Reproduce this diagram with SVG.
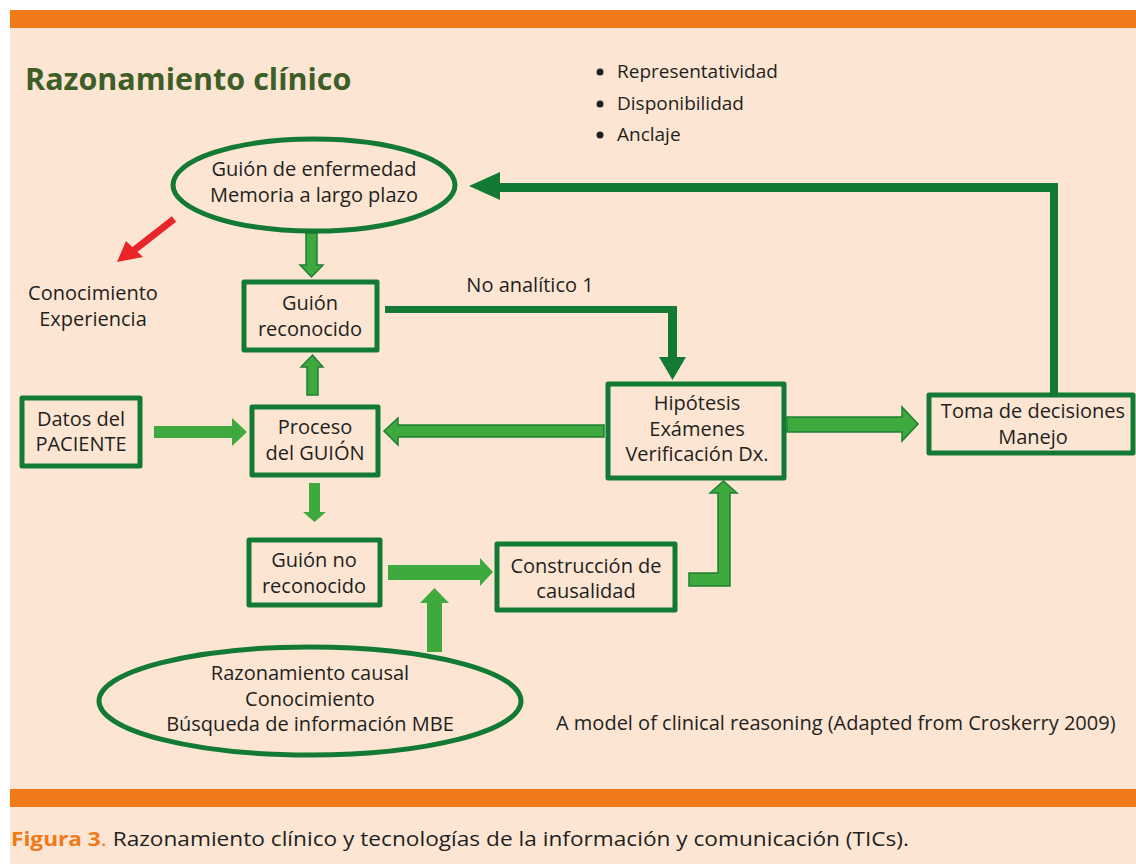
<svg xmlns="http://www.w3.org/2000/svg" width="1136" height="864" viewBox="0 0 1136 864">
<style>
.t{font-family:"Open Sans","Liberation Sans",sans-serif;font-size:20px;fill:#231F20;text-anchor:middle}
.box{fill:none;stroke:#137A36;stroke-width:5;stroke-linejoin:round}
.dg{fill:#137A36}
.lg{fill:#3EAA3E;stroke:#1F7F34;stroke-width:1.5}
.lp{fill:#3EAA3E}
</style>
<rect x="0" y="0" width="1136" height="864" fill="#FFFFFF"/>
<rect x="10" y="10" width="1126" height="854" fill="#FDE5D3"/>
<rect x="10" y="10" width="1126" height="18" fill="#EF7A17"/>
<rect x="10" y="789" width="1126" height="18" fill="#EF7A17"/>
<text x="25" y="90" font-family="Open Sans,Liberation Sans,sans-serif" font-size="30.5" font-weight="bold" fill="#3D5E27">Razonamiento clínico</text>
<g id="bullets" font-family="Open Sans,Liberation Sans,sans-serif" font-size="19" fill="#231F20">
<circle cx="600" cy="72" r="3.5"/><text x="617" y="78">Representatividad</text>
<circle cx="600" cy="104" r="3.5"/><text x="617" y="110">Disponibilidad</text>
<circle cx="600" cy="135" r="3.5"/><text x="617" y="141">Anclaje</text>
</g>
<g id="connectors">
<polygon class="lg" points="306,233 317,233 317,265 323,265 311.5,277 300,265 306,265"/>
<polygon class="lg" points="307,395 318,395 318,367 323,367 312.5,355 301,367 307,367"/>
<polygon class="lp" points="154,426 232,426 232,418 247,432 232,446 232,438 154,438"/>
<polygon class="lp" points="309,483 320,483 320,512 326,512 314.5,522 303,512 309,512"/>
<polygon class="lg" points="604,425 398,425 398,418 384,431 398,445 398,437 604,437"/>
<polygon class="lp" points="388,565 480,565 480,558 493,572 480,586 480,580 388,580"/>
<polygon class="lp" points="427,652 442,652 442,603 449,603 434.5,588 420,603 427,603"/>
<polygon class="lg" points="689,573 718,573 718,493 710,493 723.5,481 737,493 730,493 730,586 689,586"/>
<polygon class="lg" points="787,417 902,417 902,407 918,424 902,441 902,432 787,432"/>
<polygon class="dg" points="385,306 677,306 677,357 686,357 672.5,380 659,357 668,357 668,313 385,313"/>
<polygon class="dg" points="1050,393 1050,192 500,192 500,200 469,186 500,172 500,183 1058,183 1058,393"/>
<line x1="174" y1="219" x2="133" y2="251" stroke="#E8262A" stroke-width="7"/>
<polygon fill="#E8262A" points="117,262 126,241 143,257"/>
</g>
<g id="n-guion-enfermedad">
<ellipse cx="314" cy="185" rx="141" ry="46" class="box"/>
<text class="t" x="314" y="176">Guión de enfermedad</text>
<text class="t" x="314" y="202">Memoria a largo plazo</text>
</g>
<g id="n-conocimiento">
<text class="t" x="93" y="300">Conocimiento</text>
<text class="t" x="93" y="326">Experiencia</text>
</g>
<g id="n-guion-reconocido">
<rect x="244" y="282" width="133" height="68" class="box"/>
<text class="t" x="310" y="310">Guión</text>
<text class="t" x="310" y="336">reconocido</text>
</g>
<g id="n-no-analitico"><text class="t" x="530" y="292">No analítico 1</text></g>
<g id="n-datos">
<rect x="22" y="398" width="118" height="68" class="box"/>
<text class="t" x="81" y="426">Datos del</text>
<text class="t" x="81" y="451">PACIENTE</text>
</g>
<g id="n-proceso">
<rect x="252" y="407" width="126" height="68" class="box"/>
<text class="t" x="315" y="434">Proceso</text>
<text class="t" x="315" y="460">del GUIÓN</text>
</g>
<g id="n-guion-no">
<rect x="249" y="540" width="131" height="65" class="box"/>
<text class="t" x="314" y="567">Guión no</text>
<text class="t" x="314" y="593">reconocido</text>
</g>
<g id="n-construccion">
<rect x="497" y="544" width="178" height="66" class="box"/>
<text class="t" x="586" y="573">Construcción de</text>
<text class="t" x="586" y="598">causalidad</text>
</g>
<g id="n-hipotesis">
<rect x="608" y="384" width="176" height="94" class="box"/>
<text class="t" x="697" y="410">Hipótesis</text>
<text class="t" x="697" y="436">Exámenes</text>
<text class="t" x="697" y="461">Verificación Dx.</text>
</g>
<g id="n-toma">
<rect x="929" y="395" width="204" height="58" class="box"/>
<text class="t" x="1033" y="418">Toma de decisiones</text>
<text class="t" x="1033" y="444">Manejo</text>
</g>
<g id="n-razonamiento-causal">
<ellipse cx="310" cy="701" rx="211" ry="54" class="box"/>
<text class="t" x="310" y="680">Razonamiento causal</text>
<text class="t" x="310" y="706">Conocimiento</text>
<text class="t" x="310" y="731">Búsqueda de información MBE</text>
</g>
<text x="556" y="730" font-family="Open Sans,Liberation Sans,sans-serif" font-size="20" fill="#231F20">A model of clinical reasoning (Adapted from Croskerry 2009)</text>
<text x="11" y="846" font-family="Open Sans,Liberation Sans,sans-serif" font-size="20" fill="#231F20" textLength="898" lengthAdjust="spacingAndGlyphs"><tspan fill="#EF7A17" font-weight="bold">Figura 3</tspan><tspan fill="#EF7A17">.</tspan> Razonamiento clínico y tecnologías de la información y comunicación (TICs).</text>
</svg>
